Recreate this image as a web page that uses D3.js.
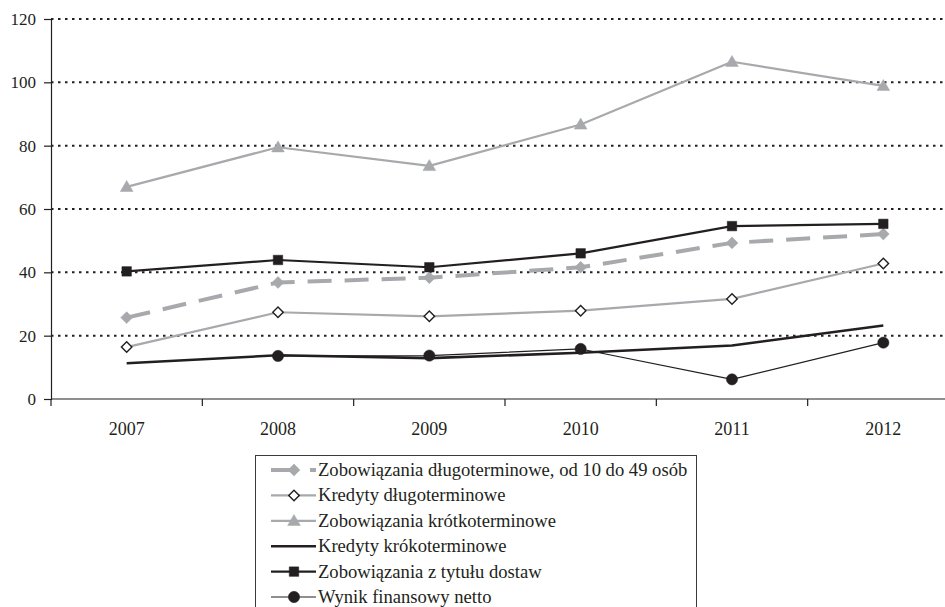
<!DOCTYPE html>
<html>
<head>
<meta charset="utf-8">
<script src="https://cdn.jsdelivr.net/npm/d3@7"></script>
<style>
  html, body { margin: 0; padding: 0; background: #fff; }
  svg { display: block; }
  text { font-family: "Liberation Serif", "Times New Roman", serif; fill: #231f20; }
</style>
</head>
<body>
<svg id="chart" width="945" height="607"></svg>
<script>
// Years on the category axis
const years = ["2007", "2008", "2009", "2010", "2011", "2012"];
const yTicks = [0, 20, 40, 60, 80, 100, 120];

// Series values (null = no data)
const zobDlugoterminowe = [25.7, 36.8, 38.3, 41.6, 49.3, 52.1];
const kredytyDlugoterminowe = [16.4, 27.4, 26.1, 27.9, 31.6, 42.8];
const zobKrotkoterminowe = [67.0, 79.5, 73.6, 86.7, 106.5, 98.9];
const kredytyKrotkoterminowe = [11.3, 13.8, 12.9, 14.6, 16.9, 23.2];
const zobDostaw = [40.3, 43.9, 41.6, 46.0, 54.6, 55.3];
const wynikNetto = [null, 13.6, 13.7, 15.8, 6.2, 17.8];

const seriesNames = [
  "Zobowiązania długoterminowe, od 10 do 49 osób",
  "Kredyty długoterminowe",
  "Zobowiązania krótkoterminowe",
  "Kredyty krókoterminowe",
  "Zobowiązania z tytułu dostaw",
  "Wynik finansowy netto"
];

const GREY = "#a7a9ac";
const DARK = "#231f20";

const series = [
  { name: seriesNames[0], values: zobDlugoterminowe, color: GREY, width: 4, dash: "24,13", marker: "diamond", mfill: GREY, mstroke: GREY, msize: 70 },
  { name: seriesNames[1], values: kredytyDlugoterminowe, color: GREY, width: 2.2, dash: null, marker: "diamond", mfill: "#fff", mstroke: DARK, msize: 55 },
  { name: seriesNames[2], values: zobKrotkoterminowe, color: GREY, width: 2.2, dash: null, marker: "triangle", mfill: GREY, mstroke: GREY, msize: 70 },
  { name: seriesNames[3], values: kredytyKrotkoterminowe, color: DARK, width: 2.6, dash: null, marker: null },
  { name: seriesNames[4], values: zobDostaw, color: DARK, width: 2.2, dash: null, marker: "square", mfill: DARK, mstroke: DARK, msize: 90 },
  { name: seriesNames[5], values: wynikNetto, color: DARK, width: 1.2, dash: null, marker: "circle", mfill: DARK, mstroke: DARK, msize: 100 }
];

const svg = d3.select("#chart");

const plot = { left: 51, right: 959, top: 19, bottom: 399 };

const x = d3.scaleBand().domain(years).range([plot.left, plot.right]).padding(0);
const y = d3.scaleLinear().domain([0, 120]).range([plot.bottom, plot.top]);
const cx = d => x(d) + x.bandwidth() / 2;

// Dotted horizontal gridlines
svg.append("g")
  .selectAll("line")
  .data(yTicks.filter(v => v > 0))
  .join("line")
  .attr("x1", plot.left).attr("x2", 945)
  .attr("y1", d => y(d)).attr("y2", d => y(d))
  .attr("stroke", DARK)
  .attr("stroke-width", 2)
  .attr("stroke-dasharray", "2.5,4.5");

// Y axis
const yAxis = svg.append("g")
  .attr("transform", `translate(${plot.left},0)`)
  .call(d3.axisLeft(y).tickValues(yTicks).tickSize(7).tickPadding(8));
yAxis.attr("font-family", null);
yAxis.select(".domain").attr("stroke", DARK).attr("stroke-width", 1.2);
yAxis.selectAll(".tick line").attr("stroke", DARK).attr("stroke-width", 1.2);
yAxis.selectAll(".tick text")
  .attr("font-size", 17)
  .attr("fill", DARK);

// X axis: baseline, ticks between categories, centred year labels
const xg = svg.append("g");
xg.append("line")
  .attr("x1", plot.left).attr("x2", 945)
  .attr("y1", plot.bottom).attr("y2", plot.bottom)
  .attr("stroke", DARK).attr("stroke-width", 1.2);
xg.selectAll("line.tk")
  .data(years)
  .join("line")
  .attr("class", "tk")
  .attr("x1", d => x(d)).attr("x2", d => x(d))
  .attr("y1", plot.bottom).attr("y2", plot.bottom + 7)
  .attr("stroke", DARK).attr("stroke-width", 1.2);
xg.selectAll("text")
  .data(years)
  .join("text")
  .attr("x", cx)
  .attr("y", 435)
  .attr("text-anchor", "middle")
  .attr("font-size", 18)
  .text(d => d);

// Marker shapes
const symbolFor = {
  triangle: d3.symbolTriangle,
  square: d3.symbolSquare,
  circle: d3.symbolCircle
};
function drawMarker(g, s, px, py) {
  const sym = d3.symbol().type(s.marker === "diamond" ? d3.symbolSquare : symbolFor[s.marker]).size(s.msize);
  const p = g.append("path")
    .attr("d", sym())
    .attr("fill", s.mfill)
    .attr("stroke", s.mstroke)
    .attr("stroke-width", s.mfill === "#fff" ? 1.4 : 0.5);
  if (s.marker === "diamond") {
    p.attr("transform", `translate(${px},${py}) rotate(45)`);
  } else if (s.marker === "triangle") {
    p.attr("transform", `translate(${px},${py + 1})`);
  } else {
    p.attr("transform", `translate(${px},${py})`);
  }
}

const line = d3.line()
  .defined(d => d.v !== null)
  .x(d => cx(d.year))
  .y(d => y(d.v));

// Draw order: back to front
const drawOrder = [2, 1, 3, 5, 0, 4];
drawOrder.forEach(i => {
  const s = series[i];
  const pts = years.map((yr, k) => ({ year: yr, v: s.values[k] }));
  const g = svg.append("g");
  g.append("path")
    .datum(pts)
    .attr("d", line)
    .attr("fill", "none")
    .attr("stroke", s.color)
    .attr("stroke-width", s.width)
    .attr("stroke-linejoin", "round")
    .attr("stroke-dasharray", s.dash);
  if (s.marker) {
    pts.filter(p => p.v !== null).forEach(p => drawMarker(g, s, cx(p.year), y(p.v)));
  }
});

// Legend
const legend = svg.append("g");
legend.append("rect")
  .attr("x", 255.5).attr("y", 455.5)
  .attr("width", 441).attr("height", 170)
  .attr("fill", "#fff")
  .attr("stroke", "#3a3a3a")
  .attr("stroke-width", 1);

const rowY = d3.scaleLinear().domain([0, 5]).range([470, 597]);
series.forEach((s, i) => {
  const yy = rowY(i);
  const g = legend.append("g");
  g.append("line")
    .attr("x1", 271).attr("x2", 316)
    .attr("y1", yy).attr("y2", yy)
    .attr("stroke", s.color)
    .attr("stroke-width", s.width)
    .attr("stroke-dasharray", s.dash ? "19,20" : null);
  if (s.marker) drawMarker(g, s, 294, yy);
  g.append("text")
    .attr("x", 318)
    .attr("y", yy + 6)
    .attr("font-size", 18.6)
    .text(s.name);
});
</script>
</body>
</html>
